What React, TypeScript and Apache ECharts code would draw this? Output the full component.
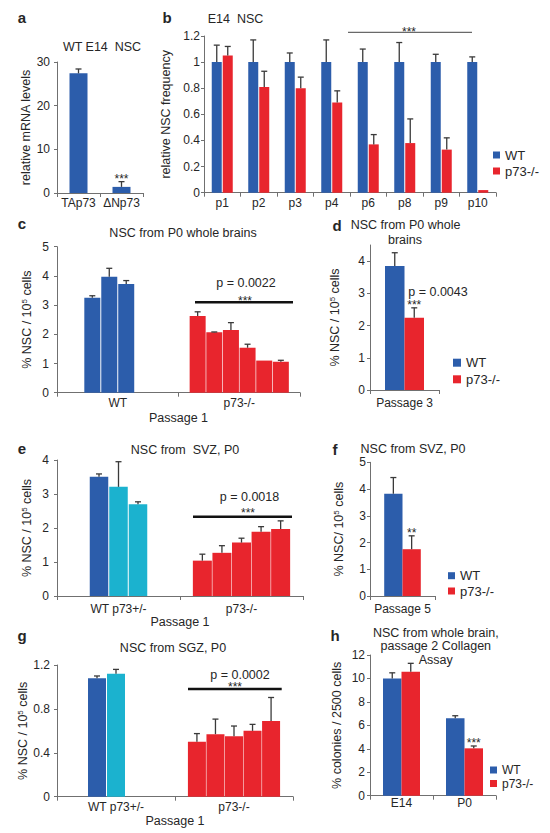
import React, { useEffect, useRef } from 'react';
import * as echarts from 'echarts';

const BLUE = '#2c5dab';
const RED = '#e8252d';
const CYAN = '#1bb2cf';
const INK = '#262626';
const AXIS = '#707070';
const ERR = '#3a3a3a';
const FONT = '"Liberation Sans", Arial, Helvetica, sans-serif';

// ---- data ----
const aCats = ['TAp73', 'ΔNp73'];
const aVals = [27.4, 1.4];
const aErr = [1.0, 1.2];
const aSig = ['', '***'];

const bCats = ['p1', 'p2', 'p3', 'p4', 'p6', 'p8', 'p9', 'p10'];
const bWT = [1, 1, 1, 1, 1, 1, 1, 1];
const bWTErr = [0.13, 0.17, 0.07, 0.17, 0.1, 0.15, 0.06, 0.04];
const bKO = [1.05, 0.81, 0.8, 0.69, 0.37, 0.38, 0.33, 0.02];
const bKOErr = [0.07, 0.12, 0.085, 0.09, 0.075, 0.185, 0.09, 0];

const cCats = ['WT', 'p73-/-'];
const cWT = [3.25, 3.97, 3.72];
const cWTErr = [0.07, 0.29, 0.12];
const cKO = [2.63, 2.07, 2.15, 1.54, 1.1, 1.06];
const cKOErr = [0.14, 0.01, 0.25, 0.12, 0, 0.05];

const dCats = ['Passage 3'];
const dWT = [3.85];
const dWTErr = [0.41];
const dKO = [2.24];
const dKOErr = [0.31];
const dSig = ['***'];

const eCats = ['WT p73+/-', 'p73-/-'];
const eWT = [3.51, 3.21, 2.7];
const eWTErr = [0.08, 0.74, 0.07];
const eKO = [1.04, 1.27, 1.57, 1.89, 1.97];
const eKOErr = [0.19, 0.21, 0.13, 0.15, 0.24];

const fCats = ['Passage 5'];
const fWT = [3.82];
const fWTErr = [0.61];
const fKO = [1.75];
const fKOErr = [0.5];
const fSig = ['**'];

const gCats = ['WT p73+/-', 'p73-/-'];
const gWT = [1.08, 1.12];
const gWTErr = [0.02, 0.04];
const gKO = [0.5, 0.57, 0.55, 0.6, 0.69];
const gKOErr = [0.075, 0.137, 0.094, 0.059, 0.214];

const hCats = ['E14', 'P0'];
const hWT = [10.0, 6.6];
const hWTErr = [0.48, 0.22];
const hKO = [10.57, 4.04];
const hKOErr = [0.72, 0.2];
const hSig = ['', '***'];

const NSC_LABEL = '% NSC / 10{sup|5} cells';

type Bar = { name: string; color: string; values: (number | null)[]; errs: (number | null)[]; sig?: string[] };
type Group = { w: number; gap: number; slots?: number; bars: Bar[] };

function font(size: number, weight = 'normal') {
  return `${weight} ${size}px ${FONT}`;
}

function buildOption() {
  const grid: any[] = [];
  const xAxis: any[] = [];
  const yAxis: any[] = [];
  const series: any[] = [];

  function panel(cfg: any) {
    const gi = grid.length;
    const [left, top, width, height] = cfg.box;
    grid.push({ left, top, width, height, containLabel: false });
    const yi = yAxis.length;
    yAxis.push({
      type: 'value',
      gridIndex: gi,
      min: 0,
      max: cfg.max,
      interval: cfg.interval,
      axisLine: { show: true, lineStyle: { color: AXIS, width: 1 } },
      axisTick: { show: true, length: 3, lineStyle: { color: AXIS }, customValues: cfg.ticks },
      axisLabel: { color: INK, fontSize: 12, fontFamily: FONT, margin: cfg.yMargin, customValues: cfg.ticks },
      splitLine: { show: false },
      name: cfg.yName,
      nameLocation: 'middle',
      nameRotate: 90,
      nameGap: cfg.yNameGap,
      nameTextStyle: {
        color: INK,
        fontSize: 12.5,
        fontFamily: FONT,
        rich: { sup: { fontSize: 8, verticalAlign: 'top', fontFamily: FONT, color: INK } },
      },
    });
    cfg.groups.forEach((grp: Group, k: number) => {
      const xi = xAxis.length;
      if (k === 0) {
        xAxis.push({
          type: 'category',
          gridIndex: gi,
          data: cfg.cats,
          axisLine: { lineStyle: { color: AXIS, width: 1 } },
          axisTick: { show: true, length: 4, lineStyle: { color: AXIS } },
          axisLabel: { color: INK, fontSize: 12, fontFamily: FONT, margin: cfg.xMargin, interval: 0 },
          name: cfg.xName,
          nameLocation: 'middle',
          nameGap: cfg.xNameGap,
          nameTextStyle: { color: INK, fontSize: 12.5, fontFamily: FONT },
        });
      } else {
        xAxis.push({ type: 'category', gridIndex: gi, data: cfg.cats, show: false });
      }
      const slots = grp.slots ?? grp.bars.length;
      const gapStr = grp.gap + '%';
      grp.bars.forEach((b) => {
        series.push({
          type: 'bar',
          name: b.name,
          xAxisIndex: xi,
          yAxisIndex: yi,
          barWidth: grp.w,
          barGap: gapStr,
          itemStyle: { color: b.color },
          data: b.values.map((v) => (v == null ? '-' : v)),
          silent: true,
        });
      });
      for (let s = grp.bars.length; s < slots; s++) {
        series.push({
          type: 'bar',
          name: '',
          xAxisIndex: xi,
          yAxisIndex: yi,
          barWidth: grp.w,
          barGap: gapStr,
          data: cfg.cats.map(() => '-'),
          silent: true,
        });
      }
      const items: any[] = [];
      grp.bars.forEach((b, slot) => {
        b.values.forEach((v, cat) => {
          if (v != null) items.push({ cat, v, e: b.errs[cat] ?? 0, slot, sig: b.sig ? b.sig[cat] : '' });
        });
      });
      const w = grp.w;
      const g = (w * grp.gap) / 100;
      series.push({
        type: 'custom',
        xAxisIndex: xi,
        yAxisIndex: yi,
        z: 5,
        silent: true,
        encode: { x: 0, y: 1 },
        data: items.map((it) => [it.cat, it.v, it.e]),
        renderItem: (params: any, api: any) => {
          const it = items[params.dataIndex];
          const cat = api.value(0);
          const v = api.value(1);
          const e = api.value(2);
          const base = api.coord([cat, v]);
          const top = api.coord([cat, v + e]);
          const total = slots * w + (slots - 1) * g;
          const x = base[0] - total / 2 + it.slot * (w + g) + w / 2;
          const children: any[] = [];
          if (e > 0) {
            children.push({ type: 'line', shape: { x1: x, y1: base[1], x2: x, y2: top[1] }, style: { stroke: ERR, lineWidth: 1.3 } });
            children.push({ type: 'line', shape: { x1: x - 3, y1: top[1], x2: x + 3, y2: top[1] }, style: { stroke: ERR, lineWidth: 1.3 } });
          }
          if (it.sig) {
            children.push({
              type: 'text',
              x,
              y: top[1] - 3,
              style: { text: it.sig, fill: INK, font: font(12), align: 'center', verticalAlign: 'middle', lineHeight: 8 },
            });
          }
          return { type: 'group', children };
        },
      });
    });
  }

  // a
  panel({
    box: [57, 62, 86, 131], max: 30, interval: 10, cats: aCats,
    yName: 'relative mRNA levels', yNameGap: 24, yMargin: 7, xMargin: 4,
    groups: [{ w: 18, gap: 0, bars: [{ name: 'E14 NSC', color: BLUE, values: aVals, errs: aErr, sig: aSig }] }],
  });
  // b
  panel({
    box: [204, 36, 292, 156.7], max: 1.2, interval: 0.2, cats: bCats,
    yName: 'relative NSC frequency', yNameGap: 27, yMargin: 4, xMargin: 4.5,
    groups: [{ w: 10, gap: 10, bars: [
      { name: 'WT', color: BLUE, values: bWT, errs: bWTErr },
      { name: 'p73-/-', color: RED, values: bKO, errs: bKOErr },
    ] }],
  });
  // c
  panel({
    box: [57, 246.7, 243, 146], max: 5, interval: 1, cats: cCats,
    yName: NSC_LABEL, yNameGap: 24, yMargin: 8, xMargin: 4.5, xName: 'Passage 1', xNameGap: 19,
    groups: [
      { w: 16, gap: 6, slots: 4, bars: cWT.map((v, i) => ({ name: 'WT', color: BLUE, values: [v, null], errs: [cWTErr[i], null] })) },
      { w: 16, gap: 4, bars: cKO.map((v, i) => ({ name: 'p73-/-', color: RED, values: [null, v], errs: [null, cKOErr[i]] })) },
    ],
  });
  // d
  panel({
    box: [370, 245, 69, 145], max: 4.5, ticks: [0, 1, 2, 3, 4], cats: dCats,
    yName: NSC_LABEL, yNameGap: 28.75, yMargin: 5, xMargin: 7,
    groups: [{ w: 19.5, gap: 0, bars: [
      { name: 'WT', color: BLUE, values: dWT, errs: dWTErr },
      { name: 'p73-/-', color: RED, values: dKO, errs: dKOErr, sig: dSig },
    ] }],
  });
  // e
  const eColors = [BLUE, CYAN, CYAN];
  panel({
    box: [57, 460, 246, 136], max: 4, interval: 1, cats: eCats,
    yName: NSC_LABEL, yNameGap: 24, yMargin: 8, xMargin: 7, xName: 'Passage 1', xNameGap: 19.5,
    groups: [
      { w: 18.5, gap: 5.4, bars: eWT.map((v, i) => ({ name: i === 0 ? 'WT' : 'p73+/-', color: eColors[i], values: [v, null], errs: [eWTErr[i], null] })) },
      { w: 19, gap: 3, bars: eKO.map((v, i) => ({ name: 'p73-/-', color: RED, values: [null, v], errs: [null, eKOErr[i]] })) },
    ],
  });
  // f
  panel({
    box: [370, 462.3, 65, 133.7], max: 5, interval: 1, cats: fCats,
    yName: '% NSC/ 10{sup|5} cells', yNameGap: 24.75, yMargin: 4, xMargin: 7,
    groups: [{ w: 18.3, gap: 0, bars: [
      { name: 'WT', color: BLUE, values: fWT, errs: fWTErr },
      { name: 'p73-/-', color: RED, values: fKO, errs: fKOErr, sig: fSig },
    ] }],
  });
  // g
  const gColors = [BLUE, CYAN];
  panel({
    box: [57, 665, 236, 131.7], max: 1.2, interval: 0.4, cats: gCats,
    yName: NSC_LABEL, yNameGap: 24, yMargin: 7, xMargin: 4, xName: 'Passage 1', xNameGap: 18,
    groups: [
      { w: 18, gap: 5.5, slots: 3, bars: gWT.map((v, i) => ({ name: i === 0 ? 'WT' : 'p73+/-', color: gColors[i], values: [v, null], errs: [gWTErr[i], null] })) },
      { w: 18, gap: 3, bars: gKO.map((v, i) => ({ name: 'p73-/-', color: RED, values: [null, v], errs: [null, gKOErr[i]] })) },
    ],
  });
  // h
  panel({
    box: [370, 655, 126, 140.7], max: 12, interval: 2, cats: hCats,
    yName: '% colonies / 2500 cells', yNameGap: 27, yMargin: 5, xMargin: 1,
    groups: [{ w: 18.5, gap: 0, bars: [
      { name: 'WT', color: BLUE, values: hWT, errs: hWTErr },
      { name: 'p73-/-', color: RED, values: hKO, errs: hKOErr, sig: hSig },
    ] }],
  });

  const legendBase = {
    data: ['WT', 'p73-/-'],
    orient: 'vertical',
    icon: 'rect',
    padding: 0,
    selectedMode: false,
  };
  const legend = [
    { ...legendBase, left: 493, top: 148, itemWidth: 7, itemHeight: 7, itemGap: 2, textStyle: { fontSize: 13, color: INK, fontFamily: FONT, lineHeight: 14 } },
    { ...legendBase, left: 453, top: 355.7, itemWidth: 8, itemHeight: 8, itemGap: 2.6, textStyle: { fontSize: 13, color: INK, fontFamily: FONT, lineHeight: 14 } },
    { ...legendBase, left: 448, top: 568.7, itemWidth: 7, itemHeight: 7, itemGap: 1.3, textStyle: { fontSize: 13, color: INK, fontFamily: FONT, lineHeight: 14 } },
    { ...legendBase, left: 490, top: 764, itemWidth: 7, itemHeight: 7, itemGap: 1.5, textStyle: { fontSize: 12, color: INK, fontFamily: FONT, lineHeight: 12 } },
  ];

  const T = (text: string, x: number, y: number, size = 12.5, weight = 'normal', lh?: number) => ({
    type: 'text', x, y, silent: true,
    style: { text, fill: INK, font: font(size, weight), align: 'center', verticalAlign: 'middle', lineHeight: lh },
  });
  const L = (x1: number, x2: number, y: number, w: number, color: string) => ({
    type: 'line', silent: true, shape: { x1, y1: y, x2, y2: y }, style: { stroke: color, lineWidth: w },
  });

  const graphic = [
    // panel letters
    T('a', 22, 17, 15, 'bold'),
    T('b', 167, 17, 15, 'bold'),
    T('c', 22, 223, 15, 'bold'),
    T('d', 337, 225, 15, 'bold'),
    T('e', 22, 448, 15, 'bold'),
    T('f', 335, 449, 15, 'bold'),
    T('g', 22, 635, 15, 'bold'),
    T('h', 335, 635, 15, 'bold'),
    // titles
    T('WT E14  NSC', 102, 47),
    T('E14  NSC', 235.5, 19),
    T('NSC from P0 whole brains', 183, 232.7),
    T('NSC from P0 whole', 405.5, 225),
    T('brains', 405, 240),
    T('NSC from  SVZ, P0', 185, 450),
    T('NSC from SVZ, P0', 413, 449.3),
    T('NSC from SGZ, P0', 173, 648.3),
    T('NSC from whole brain,', 435.8, 633.3),
    T('passage 2 Collagen', 435.8, 646),
    T('Assay', 435.8, 659.5),
    // significance annotations
    L(348, 472, 32.3, 1, '#444'),
    T('***', 409, 32, 12, 'normal', 8),
    T('p = 0.0022', 246, 283),
    T('***', 245, 300.7, 12, 'normal', 8),
    L(195, 293, 302.3, 2.5, '#111'),
    T('p = 0.0043', 438, 291.7),
    T('p = 0.0018', 249.5, 497.3),
    T('***', 248, 513, 12, 'normal', 8),
    L(193, 292, 516.7, 2.5, '#111'),
    T('p = 0.0002', 240, 674.5),
    T('***', 235, 687.3, 12, 'normal', 8),
    L(188, 281.7, 689, 2.5, '#111'),
  ];

  return {
    animation: false,
    textStyle: { fontFamily: FONT },
    grid,
    xAxis,
    yAxis,
    series,
    legend,
    graphic: { elements: graphic },
  };
}

export default function App() {
  const ref = useRef<HTMLDivElement>(null);
  useEffect(() => {
    if (!ref.current) return;
    const chart = echarts.init(ref.current, null, { renderer: 'svg' });
    chart.setOption(buildOption() as any);
    return () => chart.dispose();
  }, []);
  return <div ref={ref} style={{ position: 'absolute', left: 0, top: 0, width: 550, height: 833, background: '#fff' }} />;
}
